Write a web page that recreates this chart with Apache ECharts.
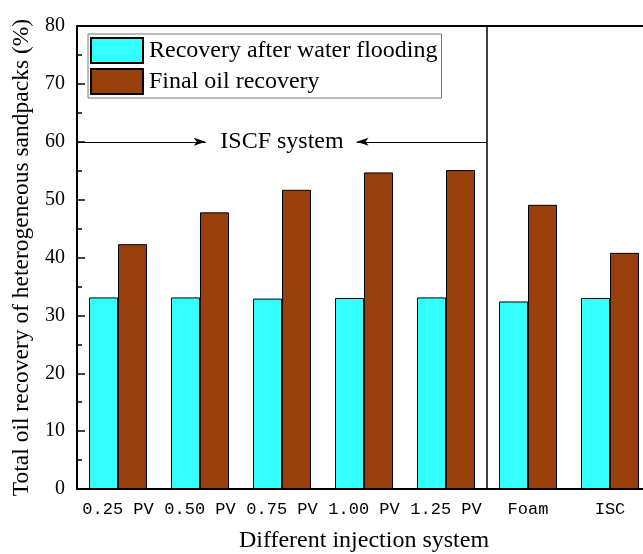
<!DOCTYPE html>
<html>
<head>
<meta charset="utf-8">
<script src="https://cdn.jsdelivr.net/npm/echarts@6/dist/echarts.min.js"></script>
<style>
  html, body { margin: 0; padding: 0; background: #fff; }
  #main { width: 643px; height: 554px; }
</style>
</head>
<body>
<div id="main"></div>
<script>
// categories and values
const categories = ['0.25 PV', '0.50 PV', '0.75 PV', '1.00 PV', '1.25 PV', 'Foam', 'ISC'];
const waterFlooding = [33.1, 33.1, 32.9, 33.0, 33.1, 32.4, 33.0];
const finalRecovery = [42.3, 47.8, 51.7, 54.7, 55.1, 49.1, 40.8];
const yTicks = [0, 10, 20, 30, 40, 50, 60, 70, 80];

// divider between ISCF group and the others (in category units)
const dividerAt = 5;
const groupLabel = 'ISCF system';

const serif = 'Liberation Serif';

const myChart = echarts.init(document.getElementById('main'));

const option = {
  backgroundColor: '#fff',
  animation: false,
  grid: {
    left: 77,
    right: -8,
    top: 26,
    bottom: 65,
    outerBoundsMode: 'none'
  },
  legend: {
    orient: 'vertical',
    left: 88,
    top: 34,
    icon: 'rect',
    itemWidth: 52,
    itemHeight: 25,
    itemGap: 4,
    padding: [3, 4, 3, 2],
    borderColor: '#777',
    borderWidth: 1,
    backgroundColor: '#fff',
    textStyle: { fontFamily: serif, fontSize: 24, color: '#000', padding: [0, 0, 0, 1] },
    data: ['Recovery after water flooding', 'Final oil recovery']
  },
  xAxis: [
    {
      type: 'category',
      data: categories,
      name: 'Different injection system',
      nameLocation: 'middle',
      nameGap: 40,
      nameTextStyle: { fontFamily: serif, fontSize: 24, color: '#000' },
      axisLine: { lineStyle: { color: '#000', width: 2 } },
      axisTick: { inside: true, length: 5, lineStyle: { color: '#000', width: 1.5 } },
      axisLabel: { interval: 0, margin: 12, fontFamily: 'Liberation Mono', fontSize: 17, color: '#000' }
    },
    {
      type: 'category',
      position: 'top',
      data: categories,
      axisLine: { show: true, onZero: false, lineStyle: { color: '#000', width: 2 } },
      axisTick: { show: false },
      axisLabel: { show: false }
    },
    {
      type: 'value',
      min: 0,
      max: categories.length,
      show: false
    }
  ],
  yAxis: {
    type: 'value',
    min: yTicks[0],
    max: yTicks[yTicks.length - 1],
    interval: 10,
    name: 'Total oil recovery of heterogeneous sandpacks (%)',
    nameLocation: 'middle',
    nameGap: 43,
    nameTextStyle: { fontFamily: serif, fontSize: 23.5, color: '#000' },
    axisLine: { show: true, lineStyle: { color: '#000', width: 2 } },
    axisTick: { show: true, inside: true, length: 8, lineStyle: { color: '#000', width: 1.5 } },
    minorTick: { show: true, splitNumber: 2, length: 5, lineStyle: { color: '#000', width: 1.5 } },
    splitLine: { show: false },
    axisLabel: { margin: 12, fontFamily: serif, fontSize: 20, color: '#000' }
  },
  series: [
    {
      name: 'Recovery after water flooding',
      type: 'bar',
      data: waterFlooding,
      barWidth: 29,
      barGap: '0%',
      itemStyle: { color: '#33FFFF', borderColor: '#000', borderWidth: 1 }
    },
    {
      name: 'Final oil recovery',
      type: 'bar',
      data: finalRecovery,
      barWidth: 29,
      barGap: '0%',
      itemStyle: { color: '#993F0C', borderColor: '#000', borderWidth: 1 }
    },
    {
      // vertical divider line and the two arrows of the ISCF label
      type: 'line',
      xAxisIndex: 2,
      data: [[dividerAt, 0], [dividerAt, 80]],
      symbol: 'none',
      silent: true,
      lineStyle: { color: '#000', width: 1.5 },
      markLine: {
        silent: true,
        symbol: ['none', 'arrow'],
        symbolSize: [6, 12],
        label: { show: false },
        lineStyle: { color: '#000', width: 1, type: 'solid' },
        data: [
          [{ coord: [0, 60] }, { coord: [1.57, 60] }],
          [{ coord: [dividerAt, 60] }, { coord: [3.41, 60] }]
        ]
      }
    },
    {
      type: 'scatter',
      xAxisIndex: 2,
      data: [[2.5, 60]],
      symbolSize: 0,
      silent: true,
      itemStyle: { opacity: 1 },
      label: {
        show: true,
        position: 'inside',
        formatter: groupLabel,
        fontFamily: serif,
        fontSize: 24,
        color: '#000',
        opacity: 1,
        textBorderWidth: 0
      }
    }
  ]
};

myChart.setOption(option);
</script>
</body>
</html>
